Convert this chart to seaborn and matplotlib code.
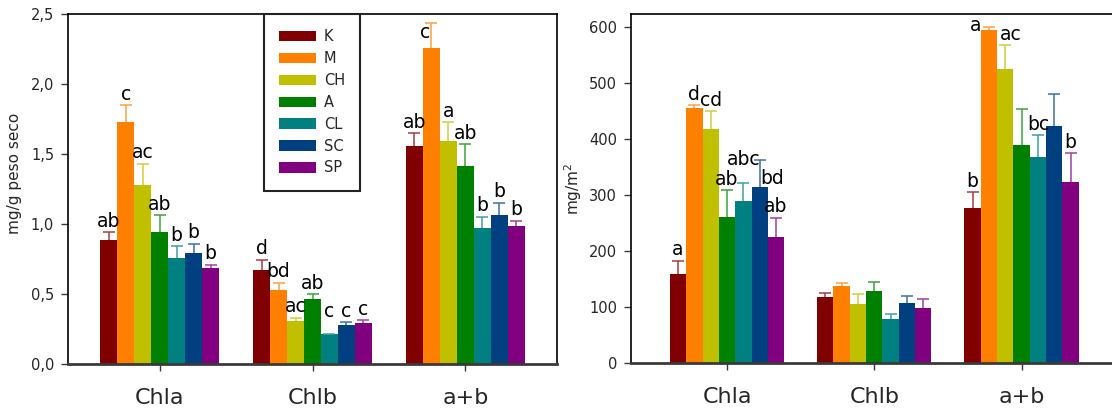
import numpy as np
import pandas as pd
import matplotlib
matplotlib.use("Agg")
import matplotlib.pyplot as plt
import seaborn as sns
from matplotlib.ticker import FuncFormatter, MultipleLocator
from matplotlib.patches import Patch
from matplotlib.colors import to_rgb

# ---------------- data ----------------
categories = ["Chla", "Chlb", "a+b"]
treatments = ["K", "M", "CH", "A", "CL", "SC", "SP"]
colors = ["#800000", "#FF8000", "#C0C000", "#008000", "#008080", "#004080", "#800080"]

# panel 1: mg/g peso seco
chla_g = [0.886, 1.726, 1.28, 0.945, 0.76, 0.79, 0.686]
chla_g_err = [0.054, 0.124, 0.15, 0.119, 0.08, 0.07, 0.024]
chlb_g = [0.669, 0.529, 0.31, 0.464, 0.212, 0.276, 0.293]
chlb_g_err = [0.076, 0.051, 0.02, 0.036, 0.004, 0.024, 0.019]
ab_g = [1.56, 2.255, 1.593, 1.416, 0.974, 1.064, 0.983]
ab_g_err = [0.087, 0.181, 0.133, 0.153, 0.078, 0.088, 0.041]

# panel 2: mg/m2
chla_m = [158.8, 455.4, 417.4, 261.5, 288.3, 315.0, 225.3]
chla_m_err = [23.7, 4.6, 32.6, 46.5, 33.3, 47.6, 33.9]
chlb_m = [117.7, 138.3, 105.8, 127.7, 79.3, 107.6, 97.5]
chlb_m_err = [7.3, 4.2, 17.8, 17.2, 8.3, 11.2, 17.2]
ab_m = [277.0, 595.0, 524.0, 389.7, 368.0, 423.0, 323.0]
ab_m_err = [27.7, 4.0, 43.0, 64.3, 39.0, 58.0, 52.0]

# significance letters
letters_g = {"Chla": ["ab", "c", "ac", "ab", "b", "b", "b"],
             "Chlb": ["d", "bd", "ac", "ab", "c", "c", "c"],
             "a+b": ["ab", "c", "a", "ab", "b", "b", "b"]}
letters_m = {"Chla": ["a", "d", "cd", "ab", "abc", "bd", "ab"],
             "Chlb": ["", "", "", "", "", "", ""],
             "a+b": ["b", "a", "ac", "", "bc", "", "b"]}

# label nudges (points) for crowded labels
nudges_g = {("a+b", "M"): (-4.5, -15), ("Chlb", "CL"): (0, 8)}
nudges_m = {("Chla", "CL"): (0, 9), ("Chla", "SC"): (9, -21),
            ("a+b", "M"): (-9.5, -6.5), ("a+b", "CH"): (4, 0)}

# ---------------- style ----------------
sns.set_theme(style="ticks")
plt.rcParams["font.family"] = ["DejaVu Sans"]
plt.rcParams["mathtext.default"] = "regular"

W, H = 1112, 412
fig = plt.figure(figsize=(W / 100, H / 100), dpi=100)
ax1 = fig.add_axes([68 / W, (H - 364) / H, 489 / W, 350 / H])
ax2 = fig.add_axes([631 / W, (H - 363) / H, 486 / W, 349 / H])


def lighten(c, f=0.25):
    r = np.array(to_rgb(c))
    return tuple(r + (1 - r) * f)


def panel(ax, means, errs, letters, nudges, ylim, xlim):
    rows = []
    for cat, vals in zip(categories, means):
        for t, v in zip(treatments, vals):
            rows.append({"cat": cat, "trt": t, "val": v})
    df = pd.DataFrame(rows)
    sns.barplot(data=df, x="cat", y="val", hue="trt", order=categories,
                hue_order=treatments, palette=colors, saturation=1,
                errorbar=None, width=0.776, gap=0, linewidth=0,
                legend=False, ax=ax)
    for ti, (cont, t) in enumerate(zip(ax.containers, treatments)):
        col = colors[ti]
        for p in cont:
            xc = p.get_x() + p.get_width() / 2
            h = p.get_height()
            ci = int(round(xc))
            cat = categories[ci]
            e = errs[ci][ti]
            eb = ax.errorbar([xc], [h], yerr=[[0], [e]], fmt="none",
                             ecolor=lighten(col), elinewidth=1.1, capsize=4,
                             capthick=1.1, zorder=3)
            caps = eb[1]
            if len(caps) == 2:
                caps[0].set_visible(False)
            lab = letters[cat][ti]
            if lab:
                dx, dy = nudges.get((cat, t), (0, 0))
                ax.annotate(lab, (xc, h + e), xytext=(dx, 1 + dy),
                            textcoords="offset points", ha="center",
                            va="bottom", fontsize=13.5, color="black",
                            annotation_clip=False, zorder=4)
    ax.set_xlim(*xlim)
    ax.set_ylim(*ylim)
    ax.set_xlabel("")
    for s in ["left", "top", "right"]:
        ax.spines[s].set_color("black")
        ax.spines[s].set_linewidth(1.2)
    ax.spines["bottom"].set_color("#3a3a3a")
    ax.spines["bottom"].set_linewidth(2)
    ax.tick_params(axis="x", length=5, width=1, color="#3a3a3a", pad=12,
                   labelsize=16, direction="out")
    ax.tick_params(axis="y", length=5, width=1, color="#3a3a3a", pad=5,
                   labelsize=10.5, direction="out")


panel(ax1, [chla_g, chlb_g, ab_g], [chla_g_err, chlb_g_err, ab_g_err],
      letters_g, nudges_g, (0, 2.5), (-0.6, 2.6))
panel(ax2, [chla_m, chlb_m, ab_m], [chla_m_err, chlb_m_err, ab_m_err],
      letters_m, nudges_m, (0, 623), (-0.652, 2.648))

ax1.yaxis.set_major_locator(MultipleLocator(0.5))
ax1.yaxis.set_major_formatter(FuncFormatter(lambda v, p: f"{v:.1f}".replace(".", ",")))
ax2.yaxis.set_major_locator(MultipleLocator(100))

ax1.set_ylabel("mg/g peso seco", fontsize=11)
ax1.yaxis.set_label_coords(-0.095, 0.544)
ax2.set_ylabel("mg/m$^{2}$", fontsize=11)
ax2.yaxis.set_label_coords(-0.097, 0.5)

handles = [Patch(facecolor=c, edgecolor="none", label=t) for c, t in zip(colors, treatments)]
leg = ax1.legend(handles=handles, loc="upper left", bbox_to_anchor=(0.4008, 1.0),
                 borderaxespad=0, frameon=True, fancybox=False, framealpha=1,
                 edgecolor="#222222", fontsize=10.5, handlelength=2.5,
                 handleheight=0.72, handletextpad=0.55, labelspacing=0.47,
                 borderpad=1.05)
leg.get_frame().set_linewidth(1.5)

fig.savefig("out.png", dpi=100)
